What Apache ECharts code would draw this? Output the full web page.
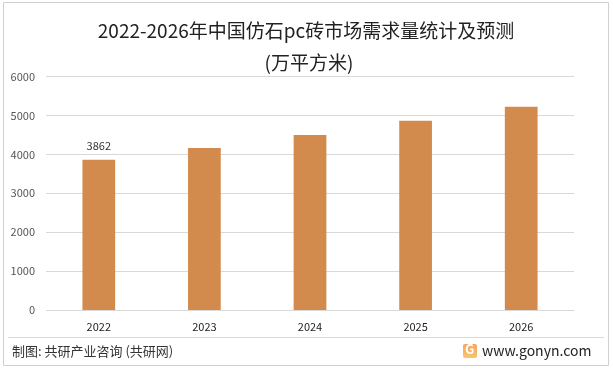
<!DOCTYPE html>
<html><head><meta charset="utf-8">
<script src="https://cdn.jsdelivr.net/npm/echarts@6/dist/echarts.min.js"></script>
<style>html,body{margin:0;padding:0;background:#fff}#c{width:613px;height:370px}</style>
</head><body><div id="c"></div>
<script>
var categories = ['2022','2023','2024','2025','2026'];
var demand = [3862, 4165, 4500, 4860, 5220];
var labelShown = [true, false, false, false, false];
var yTicks = [0, 1000, 2000, 3000, 4000, 5000, 6000];
var titleLines = ['2022-2026年中国仿石pc砖市场需求量统计及预测', '(万平方米)'];
var footerLeft = '制图: 共研产业咨询 (共研网)';
var footerRight = 'www.gonyn.com';

var font = '"Noto Sans CJK SC", "Noto Sans", sans-serif';
var chart = echarts.init(document.getElementById('c'), null, {renderer: 'canvas'});
chart.setOption({
  animation: false,
  backgroundColor: '#fff',
  grid: {left: 46, right: 39, top: 76.5, bottom: 60, containLabel: false},
  xAxis: {
    type: 'category', data: categories,
    axisLine: {show: false}, axisTick: {show: false},
    axisLabel: {fontFamily: font, fontSize: 11, color: '#222', margin: 11}
  },
  yAxis: {
    type: 'value', min: yTicks[0], max: yTicks[yTicks.length-1], interval: 1000,
    axisLine: {show: false}, axisTick: {show: false},
    axisLabel: {fontFamily: font, fontSize: 11, color: '#555', margin: 11, formatter: function(v){ return String(v); }},
    splitLine: {lineStyle: {color: '#d9d9d9', width: 1}}
  },
  series: [{
    type: 'bar', data: demand.map(function(v, i){
      return {value: v, label: {show: labelShown[i]}};
    }),
    barWidth: '31%',
    itemStyle: {color: '#D38B4D'},
    label: {position: 'top', distance: 8, fontFamily: font, fontSize: 11, color: '#333'}
  }],
  graphic: [
    {type: 'rect', shape: {x: 3.5, y: 2.5, width: 605, height: 363}, style: {fill: null, stroke: '#d0d0d0', lineWidth: 1}, silent: true},
    {type: 'text', x: 306, y: 31, style: {text: titleLines[0], font: '19px ' + font, fill: '#222', align: 'center', verticalAlign: 'middle'}},
    {type: 'text', x: 309, y: 63, style: {text: titleLines[1], font: '19px ' + font, fill: '#222', align: 'center', verticalAlign: 'middle'}},
    {type: 'line', shape: {x1: 8, y1: 337.5, x2: 604, y2: 337.5}, style: {stroke: '#d9d9d9', lineWidth: 1}},
    {type: 'text', left: 12, top: 345, style: {text: footerLeft, font: '13px ' + font, fill: '#333'}},
    {type: 'rect', shape: {x: 463, y: 344, width: 14, height: 14, r: 2},
      style: {fill: new echarts.graphic.LinearGradient(0, 0, 0, 1, [{offset: 0, color: '#F7A35C'}, {offset: 1, color: '#F8C66A'}])}},
    {type: 'text', left: 465, top: 343, style: {text: 'G', font: 'bold 13px ' + font, fill: '#fff'}},
    {type: 'text', left: 482, top: 344, style: {text: footerRight, font: '14px ' + font, fill: '#222'}}
  ]
});
</script></body></html>
